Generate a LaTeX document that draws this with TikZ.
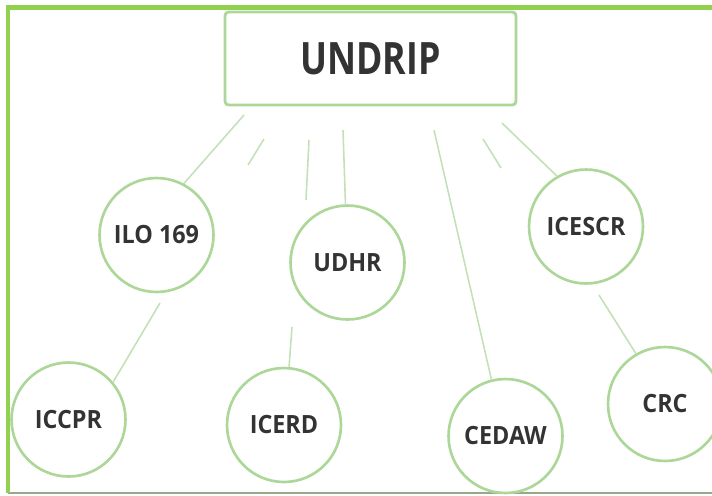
\documentclass[tikz,border=0pt]{standalone}
\usepackage{fontspec}
\newfontfamily\headfont[FakeStretch=0.8]{Open Sans}
\newfontfamily\treatyfont[FakeStretch=0.93]{Open Sans}
\usepackage{tikz}
\definecolor{framegreen}{RGB}{146,208,80}
\definecolor{rimgreen}{RGB}{172,215,152}
\definecolor{linkgreen}{RGB}{196,224,182}
\definecolor{basegray}{RGB}{150,170,135}
\definecolor{inkgray}{RGB}{51,51,51}
\tikzset{treaty/.style={circle, draw=rimgreen, line width=1.5pt, fill=white, minimum size=2.28cm, inner sep=0pt, text=inkgray, font=\treatyfont\bfseries\fontsize{14.3}{16}\selectfont}}
\tikzset{declbox/.style={rectangle, rounded corners=2pt, draw=rimgreen, line width=1.6pt, fill=white, minimum width=5.82cm, minimum height=1.86cm, text=inkgray, font=\headfont\bfseries\fontsize{25.4}{28}\selectfont}}
\tikzset{link/.style={draw=linkgreen, line width=0.9pt}}

\begin{document}
\begin{tikzpicture}[x=0.02cm, y=-0.02cm]
            \useasboundingbox (0, 0) rectangle (712, 495);
            \draw[basegray, line width=1.1pt] (8, 493) -- (712, 493);
            \draw[framegreen, line width=2.6pt] (8, 493) -- (8, 7.3) -- (712, 7.3);
            \node[declbox] (undrip) at (370.5, 58.5) {UNDRIP};
            \node[treaty] (ilo) at (156.5, 235) {ILO 169};
            \node[treaty] (udhr) at (347.5, 262.5) {UDHR};
            \node[treaty] (icescr) at (586, 226.5) {ICESCR};
            \node[treaty] (iccpr) at (68.5, 419.5) {ICCPR};
            \node[treaty] (icerd) at (284, 425) {ICERD};
            \node[treaty] (cedaw) at (505.5, 436) {CEDAW};
            \node[treaty] (crc) at (665, 404) {CRC};
            \coordinate (u1) at (244, 115);
            \coordinate (u4) at (343, 130);
            \coordinate (u5) at (434, 130);
            \coordinate (u7) at (502, 123);
            \coordinate (d8) at (599, 295);
            \coordinate (d9) at (160, 303);
            \coordinate (d10) at (292, 327);
            \draw[link] (u1) -- (ilo.62);
            \draw[link] (u4) -- (udhr.92);
            \draw[link] (u5) -- (cedaw.104);
            \draw[link] (u7) -- (icescr.120);
            \draw[link] (d8) -- (crc.120);
            \draw[link] (d9) -- (iccpr.40);
            \draw[link] (d10) -- (icerd.85);
            \foreach \xa/\ya/\xb/\yb [count=\i] in {264/139/248/165, 309/140/306/200, 483/139/501/168} {
                \coordinate (s\i a) at (\xa, \ya);
                \coordinate (s\i b) at (\xb, \yb);
                \draw[link] (s\i a) -- (s\i b);
            }
        \end{tikzpicture}
\end{document}
